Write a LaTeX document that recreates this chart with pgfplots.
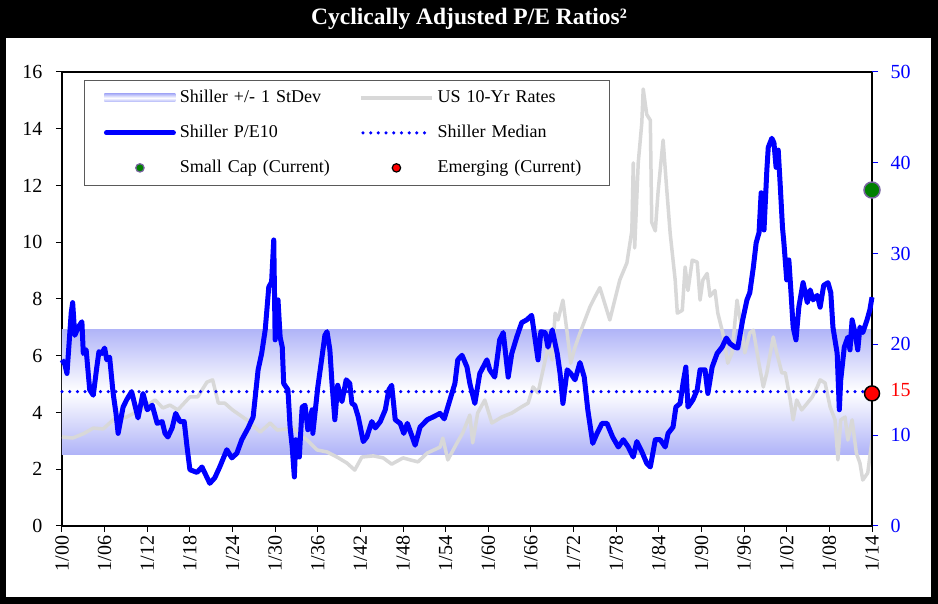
\documentclass[border=0pt]{standalone}
\usepackage{fontspec}
\setmainfont{Liberation Serif}
\usepackage{pgfplots}
\pgfplotsset{compat=1.18}

\definecolor{bandc}{RGB}{176,180,248}
\definecolor{rategray}{RGB}{216,216,216}
\definecolor{smallcap}{RGB}{0,128,0}
\definecolor{smallcapedge}{RGB}{120,100,160}
\definecolor{legframe}{RGB}{90,90,90}

\pgfplotsset{
  capebase/.style={
    at={(62pt,78pt)}, anchor=south west,
    scale only axis, width=810pt, height=454pt,
    xmin=1900, xmax=2014,
    tick label style={font=\fontsize{20}{24}\selectfont},
    /pgf/number format/assume math mode=true,
    major tick length=6pt, tick align=outside,
  }
}

\begin{document}
\begin{tikzpicture}[x=1pt,y=1pt]
% frame and title bar
\fill[black] (0,0) rectangle (938,604);
\fill[white] (6,7) rectangle (931,566);
\node[text=white, font=\bfseries\fontsize{23.5}{27}\selectfont] at (469,585)
  {Cyclically Adjusted P/E Ratios²};

% left scale: 10-year yields (%) and the +/- 1 StDev band
\begin{axis}[capebase,
  ymin=0, ymax=16, ytick={0,2,...,16},
  xtick={1900,1906,...,2014},
  xticklabels={1/00,1/06,1/12,1/18,1/24,1/30,1/36,1/42,1/48,1/54,1/60,1/66,1/72,1/78,1/84,1/90,1/96,1/02,1/08,1/14},
  xticklabel style={rotate=90, anchor=east},
  yticklabel style={xshift=-10pt},
  tick pos=left,
  axis line style={line width=2pt},
  every tick/.style={black, line width=1pt},
]
% band: 7.9 to 21.7 on the P/E scale, fading to white at its centre
\addplot[draw=none, top color=bandc, bottom color=bandc, middle color=white]
  coordinates {(1900,2.53) (2014,2.53) (2014,6.94) (1900,6.94)} -- cycle;

\addplot[rategray, line width=3.5pt, line join=round] coordinates {
(1900.0,3.14) (1901.5,3.10) (1903.0,3.25) (1904.4,3.45) (1905.8,3.42)
(1907.2,3.74) (1909.1,3.84) (1911.0,4.09) (1913.1,4.44) (1914.2,4.16)
(1915.2,4.26) (1916.3,4.09) (1918.0,4.55) (1919.1,4.55) (1920.4,5.07)
(1921.2,5.15) (1922.0,4.33) (1922.9,4.33) (1924.0,4.09) (1926.0,3.74)
(1927.9,3.31) (1929.3,3.63) (1930.3,3.38) (1932.5,3.45) (1934.5,3.03)
(1935.9,2.68) (1937.3,2.61) (1938.7,2.43) (1940.1,2.22) (1941.2,1.97)
(1942.2,2.43) (1943.8,2.47) (1945.2,2.40) (1946.4,2.18) (1948.0,2.40)
(1949.0,2.33) (1950.1,2.26) (1951.4,2.57) (1953.2,2.78) (1953.6,3.10)
(1954.3,2.33) (1955.6,2.93) (1956.4,3.28) (1957.4,3.91) (1957.8,2.93)
(1958.5,3.98) (1959.5,4.44) (1960.5,3.63) (1961.9,3.84) (1963.3,3.98)
(1964.7,4.20) (1965.6,4.33) (1966.3,4.90) (1967.0,4.69) (1967.7,5.50)
(1968.4,6.30) (1969.0,5.85) (1969.4,7.50) (1969.8,7.26) (1970.5,7.96)
(1971.1,6.80) (1971.6,5.74) (1972.2,6.30) (1972.9,6.80) (1973.6,7.26)
(1974.3,7.72) (1975.0,8.07) (1975.7,8.40) (1977.1,7.26) (1978.5,8.67)
(1979.5,9.27) (1980.2,10.4) (1980.4,12.8) (1980.6,9.80) (1981.1,12.8)
(1981.6,14.2) (1981.8,15.4) (1982.3,14.5) (1982.8,14.3) (1983.0,10.7)
(1983.5,10.4) (1983.9,11.8) (1984.6,13.6) (1985.1,11.9) (1985.6,10.3)
(1986.3,8.67) (1986.6,7.50) (1987.3,7.60) (1987.7,9.13) (1988.1,8.30)
(1988.7,9.37) (1989.4,9.30) (1989.8,7.96) (1990.2,8.67) (1990.8,8.90)
(1991.2,8.10) (1991.9,8.30) (1992.3,7.50) (1993.0,6.80) (1993.7,5.74)
(1994.3,6.10) (1995.0,7.96) (1995.5,7.20) (1996.1,6.10) (1996.8,6.80)
(1997.3,6.90) (1998.0,5.85) (1998.7,4.90) (1999.2,5.40) (2000.1,6.66)
(2000.6,6.10) (2001.3,5.40) (2001.8,5.40) (2002.5,4.44) (2002.9,3.74)
(2003.4,4.44) (2004.1,4.09) (2004.9,4.33) (2005.6,4.55) (2006.3,4.90)
(2006.7,5.15) (2007.4,5.04) (2008.1,4.20) (2008.8,3.74) (2009.2,2.33)
(2009.6,3.74) (2010.2,3.84) (2010.6,3.03) (2011.2,3.74) (2011.8,2.57)
(2012.3,2.22) (2012.7,1.62) (2013.4,1.87) (2014.0,3.03)
};
\end{axis}

% right scale: Shiller P/E10
\begin{axis}[capebase,
  ymin=0, ymax=50,
  axis x line=none, axis y line*=right,
  ytick={0,10,15,20,30,40,50},
  yticklabels={0,10,\textcolor{red}{15},20,30,40,50},
  yticklabel style={text=blue, xshift=9pt},
  axis line style={-, black, line width=2pt},
  every tick/.style={blue, line width=1pt},
  clip=false,
  legend columns=2,
  legend cell align=left,
  legend style={
    at={(0.0272,0.9824)}, anchor=north west,
    draw=legframe, line width=0.8pt, fill=white,
    font=\fontsize{18}{21}\selectfont,
    inner xsep=16pt, inner ysep=0pt,
    /tikz/column sep=0pt,
    nodes={inner xsep=4pt, inner ysep=9pt, text height=13pt, text depth=4pt, anchor=west},
    /tikz/column 2/.style={text width=173pt},
    /tikz/column 4/.style={text width=152pt},
  },
]
\addlegendimage{legend image code/.code={
  \path[draw=none] (0pt,0pt);
  \path[draw=none, top color=bandc, bottom color=bandc, middle color=white] (4pt,-4pt) rectangle (75pt,4pt);}}
\addlegendentry{Shiller +/- 1 StDev}
\addlegendimage{legend image code/.code={
  \path[draw=none] (0pt,0pt);
  \draw[rategray, line width=3.5pt] (4pt,0pt) -- (75pt,0pt);}}
\addlegendentry{US 10-Yr Rates}

\addplot[blue, line width=3.5pt, dash pattern=on 0pt off 7.7pt, line cap=round, forget plot]
  coordinates {(1900,14.8) (2014,14.8)};

\addplot[blue, line width=5pt, line join=round,
  legend image code/.code={
    \path[draw=none] (0pt,0pt);
    \draw[blue, line width=5pt, line cap=round] (6pt,0pt) -- (73pt,0pt);}]
coordinates {
(1900.0,18.3) (1900.4,17.8) (1900.7,16.8) (1901.3,23.5) (1901.5,24.6)
(1901.8,21.0) (1902.3,21.9) (1902.8,22.5) (1903.0,19.0) (1903.4,19.4)
(1903.9,15.0) (1904.4,14.4) (1904.9,17.5) (1905.2,19.2) (1905.6,19.0)
(1906.0,19.6) (1906.3,18.3) (1906.7,18.6) (1907.2,14.6) (1907.6,12.4)
(1907.9,10.2) (1908.6,13.1) (1909.1,13.9) (1909.8,14.8) (1910.7,11.9)
(1911.4,14.6) (1912.0,12.8) (1912.7,13.3) (1913.4,11.3) (1914.1,11.5)
(1914.5,10.2) (1914.9,9.8) (1915.5,10.8) (1916.0,12.4) (1916.6,11.5)
(1917.2,11.5) (1917.6,8.7) (1918.0,6.2) (1919.0,5.9) (1919.7,6.5)
(1920.8,4.7) (1921.5,5.3) (1922.2,6.5) (1923.2,8.4) (1923.9,7.5)
(1924.6,8.0) (1925.3,9.5) (1926.2,10.8) (1926.9,12.0) (1927.6,17.2)
(1928.1,19.0) (1928.6,21.6) (1929.1,26.3) (1929.5,26.9) (1929.8,31.5)
(1930.0,20.5) (1930.4,24.9) (1930.7,20.8) (1931.0,19.7) (1931.2,15.7)
(1931.8,15.0) (1932.1,10.9) (1932.4,8.7) (1932.7,5.4) (1932.9,9.5)
(1933.4,7.6) (1933.8,13.1) (1934.2,13.3) (1934.6,10.6) (1935.2,12.8)
(1935.3,10.2) (1936.0,15.3) (1936.5,18.1) (1937.0,21.0) (1937.3,21.4)
(1937.7,19.4) (1938.0,15.7) (1938.4,11.7) (1938.8,15.5) (1939.4,13.7)
(1940.0,16.1) (1940.5,15.7) (1940.8,13.5) (1941.2,13.3) (1941.7,12.0)
(1942.4,9.3) (1942.9,9.8) (1943.6,11.5) (1944.1,10.8) (1944.8,11.5)
(1945.5,12.8) (1946.0,15.0) (1946.4,15.5) (1946.9,11.7) (1947.6,11.3)
(1948.1,10.2) (1948.6,11.3) (1949.3,9.8) (1949.7,8.9) (1950.4,10.9)
(1951.4,11.7) (1952.2,12.0) (1953.2,12.4) (1953.8,11.8) (1954.6,13.9)
(1955.3,15.7) (1955.7,18.3) (1956.3,18.8) (1957.0,17.5) (1957.4,15.7)
(1958.1,13.5) (1958.8,16.8) (1959.8,18.3) (1960.2,17.2) (1960.9,16.4)
(1961.6,20.5) (1962.1,21.3) (1962.8,16.4) (1963.3,19.0) (1964.0,20.8)
(1964.7,22.4) (1965.4,22.7) (1966.1,23.2) (1966.6,20.5) (1967.0,18.3)
(1967.4,21.4) (1968.0,21.3) (1968.4,19.7) (1969.0,21.6) (1969.7,19.0)
(1970.1,16.8) (1970.5,13.5) (1971.1,17.2) (1971.6,16.8) (1972.2,16.1)
(1972.9,18.0) (1973.5,16.4) (1974.0,12.8) (1974.7,9.1) (1975.3,10.2)
(1976.0,11.3) (1976.7,11.3) (1977.5,9.8) (1978.3,8.7) (1979.0,9.5)
(1979.7,8.7) (1980.4,7.6) (1980.9,9.3) (1981.6,8.2) (1982.3,6.9)
(1982.8,6.5) (1983.5,9.5) (1984.2,9.5) (1984.9,8.7) (1985.3,10.2)
(1986.0,10.9) (1986.4,13.1) (1987.0,13.5) (1987.4,15.7) (1987.8,17.5)
(1988.1,13.1) (1988.8,13.9) (1989.4,15.0) (1989.8,17.2) (1990.5,17.2)
(1990.9,14.6) (1991.5,17.5) (1992.2,19.0) (1992.9,19.7) (1993.5,20.7)
(1994.0,20.1) (1994.7,19.7) (1995.1,19.6) (1995.8,22.7) (1996.4,24.9)
(1996.8,25.7) (1997.3,28.5) (1997.7,31.2) (1998.1,32.3) (1998.4,36.7)
(1998.8,32.6) (1999.2,39.2) (1999.4,41.7) (1999.9,42.7) (2000.2,42.2)
(2000.5,39.5) (2000.8,41.4) (2001.1,37.3) (2001.4,32.9) (2001.6,31.2)
(2002.0,27.1) (2002.3,29.3) (2002.6,25.7) (2002.9,21.9) (2003.3,20.5)
(2003.7,24.1) (2004.3,26.8) (2004.9,24.6) (2005.3,26.0) (2005.7,24.9)
(2006.3,25.4) (2006.7,24.1) (2007.2,26.5) (2007.8,26.8) (2008.2,25.7)
(2008.5,21.9) (2009.1,19.0) (2009.4,12.8) (2009.6,16.1) (2010.1,19.7)
(2010.6,20.8) (2010.9,19.4) (2011.2,22.7) (2011.6,21.3) (2012.0,19.4)
(2012.3,21.9) (2012.7,21.3) (2013.3,22.7) (2013.7,23.8) (2014.0,25.2)
};
\addlegendentry{Shiller P/E10}

\addlegendimage{legend image code/.code={
  \path[draw=none] (0pt,0pt);
  \draw[blue, line width=3.5pt, dash pattern=on 0pt off 7.7pt, line cap=round] (6pt,0pt) -- (75pt,0pt);}}
\addlegendentry{Shiller Median}

\addplot[only marks, mark=*, mark size=8pt,
  mark options={fill=smallcap, draw=smallcapedge, line width=1.5pt},
  legend image code/.code={
    \path[draw=none] (0pt,0pt);
    \draw[fill=smallcap, draw=smallcapedge, line width=1.2pt] (39.5pt,0pt) circle (4.2pt);}]
  coordinates {(2014,37.0)};
\addlegendentry{Small Cap (Current)}

\addplot[only marks, mark=*, mark size=7.5pt,
  mark options={fill=red, draw=black, line width=1.5pt},
  legend image code/.code={
    \path[draw=none] (0pt,0pt);
    \draw[fill=red, draw=black, line width=1.2pt] (39.5pt,0pt) circle (4.2pt);}]
  coordinates {(2014,14.6)};
\addlegendentry{Emerging (Current)}
\end{axis}
\end{tikzpicture}
\end{document}
